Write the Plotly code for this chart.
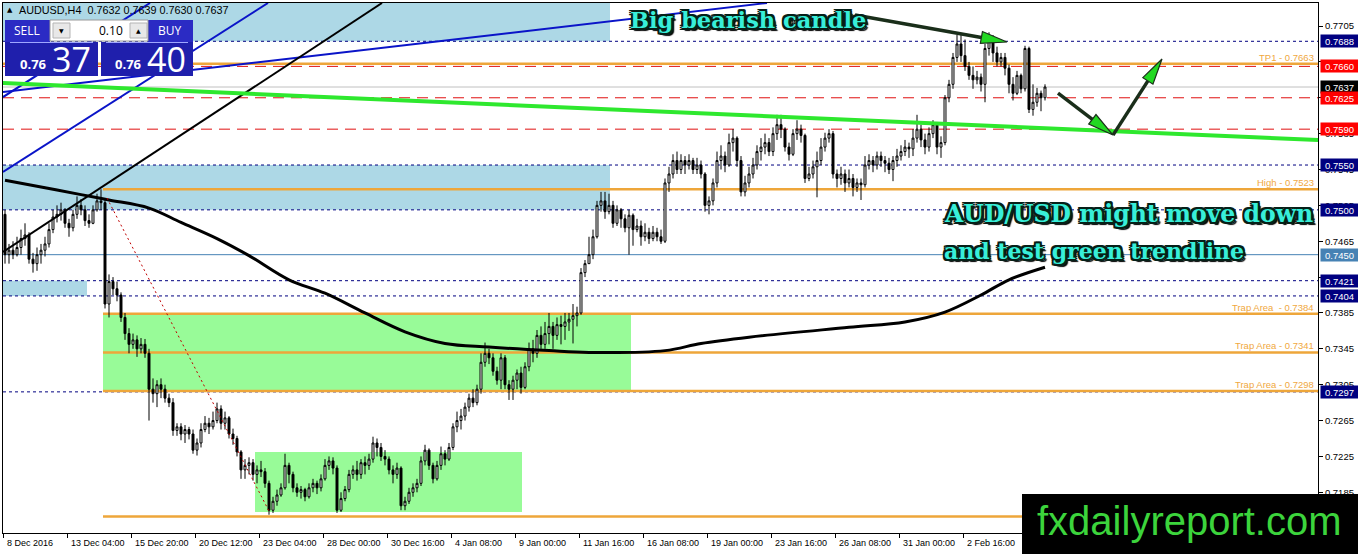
import math
import plotly.graph_objects as go

# ---------------- data (prices in pips, x 10000) ----------------
first_open = 7495
close_pips = [
    7450, 7455, 7450, 7458, 7468, 7472, 7445, 7440, 7450, 7455,
    7462, 7478, 7492, 7495, 7500, 7485, 7480, 7495, 7505, 7500,
    7488, 7485, 7500, 7510, 7508, 7395, 7420, 7412, 7405, 7380,
    7362, 7350, 7355, 7345, 7350, 7340, 7300, 7295, 7305, 7300,
    7290, 7285, 7254, 7258, 7250, 7255, 7250, 7232, 7240, 7255,
    7262, 7258, 7265, 7278, 7262, 7268, 7250, 7245, 7230, 7210,
    7215, 7218, 7205, 7210, 7208, 7195, 7165, 7175, 7182, 7190,
    7215, 7205, 7190, 7185, 7188, 7180, 7190, 7195, 7190, 7200,
    7215, 7220, 7212, 7165, 7178, 7188, 7205, 7210, 7205, 7218,
    7215, 7222, 7240, 7235, 7225, 7222, 7210, 7205, 7212, 7170,
    7175, 7185, 7190, 7195, 7220, 7232, 7215, 7200, 7215, 7228,
    7222, 7235, 7258, 7265, 7270, 7280, 7290, 7285, 7300, 7330,
    7340, 7335, 7320, 7310, 7335, 7305, 7300, 7310, 7318, 7302,
    7325, 7345, 7340, 7360, 7350, 7362, 7370, 7360, 7372, 7370,
    7375, 7378, 7382, 7385, 7430, 7440, 7450, 7470, 7505, 7510,
    7498, 7505, 7485, 7500, 7490, 7480, 7494, 7478, 7482, 7470,
    7475, 7468, 7475, 7470, 7465, 7530, 7540, 7555, 7545, 7555,
    7550, 7555, 7545, 7550, 7540, 7505, 7510, 7530, 7555, 7560,
    7550, 7575, 7580, 7555, 7520, 7530, 7540, 7550, 7565, 7570,
    7575, 7565, 7585, 7595, 7590, 7570, 7562, 7585, 7590, 7583,
    7535, 7540, 7548, 7555, 7570, 7580, 7585, 7540, 7535, 7540,
    7530, 7535, 7525, 7530, 7528, 7550, 7555, 7550, 7560, 7555,
    7552, 7545, 7555, 7560, 7565, 7570, 7568, 7580, 7590, 7578,
    7570, 7585, 7595, 7570, 7575, 7625, 7640, 7670, 7685, 7672,
    7660, 7650, 7645, 7648, 7640, 7680, 7690, 7675, 7665, 7670,
    7658, 7640, 7630, 7650, 7635, 7680, 7612, 7620, 7630, 7625, 7637]
high_pips = [
    7500, 7462, 7465, 7470, 7478, 7485, 7475, 7452, 7458, 7462,
    7470, 7485, 7500, 7505, 7508, 7502, 7490, 7500, 7515, 7512,
    7505, 7495, 7505, 7518, 7523, 7512, 7428, 7425, 7420, 7408,
    7385, 7368, 7362, 7360, 7357, 7356, 7345, 7312, 7310, 7312,
    7305, 7295, 7290, 7262, 7262, 7260, 7258, 7255, 7245, 7262,
    7270, 7268, 7275, 7285, 7282, 7275, 7270, 7256, 7248, 7232,
    7222, 7224, 7222, 7215, 7220, 7212, 7198, 7180, 7188, 7195,
    7228, 7218, 7208, 7195, 7192, 7190, 7195, 7200, 7198, 7205,
    7222, 7225, 7224, 7215, 7185, 7192, 7210, 7215, 7220, 7222,
    7225, 7228, 7247, 7245, 7240, 7232, 7225, 7215, 7218, 7214,
    7180, 7190, 7195, 7200, 7225, 7238, 7234, 7218, 7220, 7236,
    7232, 7240, 7262, 7275, 7278, 7285, 7295, 7300, 7305, 7340,
    7352, 7345, 7340, 7325, 7340, 7338, 7310, 7315, 7322, 7325,
    7330, 7352, 7355, 7366, 7370, 7375, 7385, 7375, 7380, 7382,
    7385, 7385, 7395, 7392, 7435, 7444, 7470, 7478, 7510, 7520,
    7520, 7518, 7510, 7505, 7502, 7495, 7500, 7496, 7490, 7488,
    7485, 7480, 7482, 7480, 7478, 7535, 7548, 7562, 7565, 7562,
    7560, 7562, 7558, 7558, 7555, 7542, 7515, 7535, 7565, 7572,
    7565, 7585, 7590, 7582, 7560, 7538, 7548, 7558, 7572, 7580,
    7585, 7580, 7592, 7606, 7606, 7592, 7575, 7590, 7600, 7595,
    7585, 7548, 7555, 7565, 7580, 7586, 7590, 7588, 7545, 7548,
    7545, 7545, 7540, 7535, 7535, 7560, 7562, 7560, 7565, 7565,
    7560, 7558, 7560, 7568, 7572, 7578, 7575, 7590, 7606, 7595,
    7585, 7592, 7600, 7598, 7582, 7628, 7645, 7675, 7695, 7695,
    7690, 7665, 7660, 7655, 7652, 7685, 7698, 7695, 7682, 7675,
    7675, 7662, 7648, 7655, 7652, 7683, 7682, 7640, 7636, 7633, 7640]
low_pips = [
    7440, 7440, 7445, 7448, 7450, 7460, 7440, 7430, 7432, 7440,
    7448, 7458, 7474, 7486, 7488, 7480, 7470, 7476, 7490, 7494,
    7482, 7480, 7484, 7498, 7500, 7390, 7380, 7405, 7398, 7375,
    7355, 7340, 7345, 7336, 7340, 7335, 7265, 7285, 7280, 7290,
    7285, 7280, 7248, 7248, 7243, 7240, 7244, 7228, 7226, 7235,
    7252, 7250, 7255, 7262, 7255, 7255, 7245, 7238, 7225, 7200,
    7200, 7205, 7198, 7195, 7202, 7190, 7160, 7162, 7170, 7180,
    7188, 7195, 7185, 7180, 7178, 7175, 7178, 7185, 7183, 7186,
    7198, 7210, 7205, 7162, 7163, 7175, 7185, 7200, 7198, 7200,
    7205, 7210, 7218, 7225, 7220, 7215, 7205, 7195, 7200, 7165,
    7165, 7172, 7180, 7185, 7192, 7215, 7210, 7195, 7198, 7210,
    7215, 7220, 7232, 7252, 7255, 7265, 7275, 7280, 7282, 7295,
    7325, 7328, 7315, 7305, 7300, 7300, 7288, 7288, 7300, 7295,
    7300, 7320, 7330, 7335, 7345, 7345, 7350, 7345, 7355, 7350,
    7355, 7365, 7351, 7370, 7383, 7425, 7440, 7445, 7468, 7498,
    7490, 7495, 7480, 7482, 7480, 7475, 7450, 7460, 7475, 7460,
    7465, 7462, 7465, 7465, 7462, 7463, 7520, 7535, 7540, 7540,
    7540, 7545, 7540, 7540, 7535, 7498, 7495, 7505, 7525, 7545,
    7542, 7548, 7565, 7548, 7515, 7515, 7525, 7535, 7545, 7555,
    7562, 7560, 7560, 7578, 7580, 7565, 7555, 7560, 7578, 7575,
    7530, 7532, 7535, 7514, 7550, 7565, 7575, 7535, 7525, 7528,
    7520, 7525, 7515, 7520, 7511, 7525, 7545, 7542, 7545, 7548,
    7542, 7540, 7532, 7548, 7555, 7560, 7558, 7560, 7575, 7570,
    7562, 7565, 7580, 7562, 7558, 7572, 7620, 7635, 7665, 7665,
    7655, 7645, 7635, 7640, 7632, 7620, 7672, 7665, 7660, 7660,
    7650, 7630, 7622, 7628, 7630, 7632, 7608, 7605, 7615, 7610, 7622]

ema_index = [0, 6, 19, 26, 36, 44, 53, 61, 71, 80, 90, 100, 110, 121, 136, 146,
             165, 174, 186, 211, 225, 235, 244, 251, 260]
ema_pips = [7533, 7528, 7517, 7511, 7502, 7486, 7468, 7449, 7422, 7407, 7385, 7364,
            7351, 7347, 7343, 7341, 7343, 7351, 7358, 7369, 7375, 7386, 7405, 7422, 7436]

date_tick_index = [-0.5, 15.5, 31.5, 47.5, 63.5, 79.5, 95.5, 111.5, 127.5, 143.5,
                   159.5, 175.5, 191.5, 207.5, 223.5, 239.5]
date_tick_text = ["8 Dec 2016", "13 Dec 04:00", "15 Dec 20:00", "20 Dec 12:00",
                  "23 Dec 04:00", "28 Dec 00:00", "30 Dec 16:00", "4 Jan 08:00",
                  "9 Jan 00:00", "11 Jan 16:00", "16 Jan 08:00", "19 Jan 00:00",
                  "23 Jan 16:00", "26 Jan 08:00", "31 Jan 00:00", "2 Feb 16:00"]
price_tick_vals = [0.7185, 0.7225, 0.7265, 0.7305, 0.7345, 0.7385, 0.7425, 0.7465,
                   0.7505, 0.7545, 0.7585, 0.7625, 0.7665, 0.7705]
price_tick_text = ["0.7185", "0.7225", "0.7265", "0.7305", "0.7345", "0.7385", "",
                   "0.7465", "0.7505", "0.7545", "0.7585", "", "", "0.7705"]

dotted_levels = [0.7688, 0.7550, 0.7500, 0.7421, 0.7404, 0.7297]
red_levels = [0.7660, 0.7625, 0.7590]
orange_levels = [0.7663, 0.7523, 0.7384, 0.7341, 0.7298, 0.7158]
orange_from = [-0.5, 24.5, 24.5, 24.5, 24.5, 24.5]
orange_text = ["TP1 - 0.7663", "High - 0.7523", "Trap Area  - 0.7384",
               "Trap Area - 0.7341", "Trap Area - 0.7298", ""]
steel_level = 0.7450
bid_level = 0.7637

tag_values = [0.7688, 0.7660, 0.7637, 0.7625, 0.7590, 0.7550, 0.7500, 0.7450,
              0.7421, 0.7404, 0.7297]
tag_colors = ["#000080", "#ff0000", "#000000", "#ff0000", "#ff0000", "#000080",
              "#000080", "#4682b4", "#000080", "#000080", "#000080"]

blue_zones = [[-0.5, 151.25, 0.7688, 0.7745], [-0.5, 151.25, 0.7500, 0.7550],
              [-0.5, 20.5, 0.7404, 0.7421]]
green_zones = [[24.5, 156.5, 0.7298, 0.7384], [62.5, 129.25, 0.7163, 0.7230]]

blue_trendlines = [[-0.5, 0.76258, 36.25, 0.77307], [-0.5, 0.75422, 65.75, 0.77307],
                   [-0.5, 0.76314, 190.5, 0.77307]]
black_trendline = [-0.5, 0.74530, 94.25, 0.77307]
red_dotted = [25.5, 0.75132, 66.25, 0.71619]
green_trendline = [-0.5, 0.76414, 328.25, 0.75779]
arrows = [[212.5, 0.77173, 250.5, 0.76872], [263.25, 0.76303, 277.0, 0.75834],
          [277.0, 0.75834, 289.25, 0.76682]]

# ---------------- geometry ----------------
W, H = 1358, 554
ML, MR, MT, MB = 3, 40, 3, 21
PW, PH = W - ML - MR, H - MT - MB
XR = [-0.5, 328.25]
YR = [0.71396, 0.77307]


def dpx(i, p):
    return (ML + (i - XR[0]) / (XR[1] - XR[0]) * PW,
            MT + (YR[1] - p) / (YR[1] - YR[0]) * PH)


def pap(x, y):
    return (x - ML) / PW, (H - MB - y) / PH


def px(x):
    return (x - ML) / PW


def py(y):
    return (H - MB - y) / PH


closes = [c / 10000 for c in close_pips]
opens = [first_open / 10000] + closes[:-1]
highs = [h / 10000 for h in high_pips]
lows = [l / 10000 for l in low_pips]
bar_index = list(range(len(closes)))

fig = go.Figure()
fig.add_trace(go.Candlestick(
    x=bar_index, open=opens, high=highs, low=lows, close=closes,
    increasing=dict(line=dict(color="black", width=1), fillcolor="white"),
    decreasing=dict(line=dict(color="black", width=1), fillcolor="black"),
    whiskerwidth=0, hoverinfo="skip", showlegend=False))
fig.add_trace(go.Scatter(
    x=ema_index, y=[v / 10000 for v in ema_pips], mode="lines",
    line=dict(color="black", width=3, shape="spline"), hoverinfo="skip", showlegend=False))

shapes = []
for x0, x1, y0, y1 in blue_zones:
    shapes.append(dict(type="rect", xref="x", yref="y", x0=x0, x1=x1, y0=y0, y1=y1,
                       fillcolor="#add8e6", line=dict(width=0), layer="below"))
for x0, x1, y0, y1 in green_zones:
    shapes.append(dict(type="rect", xref="x", yref="y", x0=x0, x1=x1, y0=y0, y1=y1,
                       fillcolor="#98fb98", line=dict(width=0), layer="below"))
shapes.append(dict(type="line", xref="x", yref="y", x0=XR[0], x1=XR[1], y0=bid_level,
                   y1=bid_level, line=dict(color="#c0c0c0", width=1), layer="below"))
shapes.append(dict(type="line", xref="x", yref="y", x0=XR[0], x1=XR[1], y0=steel_level,
                   y1=steel_level, line=dict(color="#4682b4", width=1), layer="below"))
for v in dotted_levels:
    shapes.append(dict(type="line", xref="x", yref="y", x0=XR[0], x1=XR[1], y0=v, y1=v,
                       line=dict(color="#000080", width=1, dash="3px,3px"), layer="below"))
for v, x0 in zip(orange_levels, orange_from):
    shapes.append(dict(type="line", xref="x", yref="y", x0=x0, x1=XR[1], y0=v, y1=v,
                       line=dict(color="#eea63a", width=2.5), layer="below"))
for v in red_levels:
    shapes.append(dict(type="line", xref="x", yref="y", x0=XR[0], x1=XR[1], y0=v, y1=v,
                       line=dict(color="#e01010", width=1, dash="11px,7px"), layer="below"))

# trend lines
for x0, y0, x1, y1 in blue_trendlines:
    shapes.append(dict(type="line", xref="x", yref="y", x0=x0, y0=y0, x1=x1, y1=y1,
                       line=dict(color="#0a14c8", width=2)))
shapes.append(dict(type="line", xref="x", yref="y", x0=black_trendline[0], y0=black_trendline[1],
                   x1=black_trendline[2], y1=black_trendline[3], line=dict(color="black", width=2)))
shapes.append(dict(type="line", xref="x", yref="y", x0=red_dotted[0], y0=red_dotted[1],
                   x1=red_dotted[2], y1=red_dotted[3], line=dict(color="#c00000", width=1, dash="2px,3px")))
shapes.append(dict(type="line", xref="x", yref="y", x0=green_trendline[0], y0=green_trendline[1],
                   x1=green_trendline[2], y1=green_trendline[3], line=dict(color="#2ee82e", width=4)))

# arrows: dark shaft + green triangular head
for x0, y0, x1, y1 in arrows:
    tx, ty = dpx(x0, y0)
    hx, hy = dpx(x1, y1)
    d = math.hypot(hx - tx, hy - ty)
    ux, uy = (hx - tx) / d, (hy - ty) / d
    nx, ny = -uy, ux
    bx, by = hx - 26 * ux, hy - 26 * uy
    shapes.append(dict(type="line", xref="paper", yref="paper",
                       x0=pap(tx, ty)[0], y0=pap(tx, ty)[1], x1=pap(bx, by)[0], y1=pap(bx, by)[1],
                       line=dict(color="#1a2e1a", width=3.5)))
    pts = [(hx, hy), (bx + 6 * nx, by + 6 * ny), (bx - 6 * nx, by - 6 * ny)]
    path = "M " + " L ".join("%.5f,%.5f" % pap(a, b) for a, b in pts) + " Z"
    shapes.append(dict(type="path", xref="paper", yref="paper", path=path,
                       fillcolor="#22d822", line=dict(color="#1a2e1a", width=1.2)))

# one-click trading panel (pixel boxes)
def rect_px(x0, y0, x1, y1, fill, line_color=None, lw=0):
    return dict(type="rect", xref="paper", yref="paper", x0=px(x0), x1=px(x1), y0=py(y1), y1=py(y0),
                fillcolor=fill, line=dict(color=line_color or fill, width=lw), layer="above")

shapes += [
    rect_px(5, 20, 50, 42, "#2b2bc4"),
    rect_px(5, 42, 98, 76, "#1f1fac"),
    rect_px(148, 20, 193, 42, "#2b2bc4"),
    rect_px(101, 42, 193, 76, "#1f1fac"),
    rect_px(50, 20, 148, 41, "#ffffff", "#9a9a9a", 1),
    rect_px(53, 23, 70, 38, "#e8e8e8", "#b4b4b4", 1),
    rect_px(130, 23, 147, 38, "#e8e8e8", "#b4b4b4", 1),
    dict(type="line", xref="paper", yref="paper", x0=px(10), x1=px(93), y0=py(42.5), y1=py(42.5),
         line=dict(color="#9fa6ff", width=1)),
    dict(type="line", xref="paper", yref="paper", x0=px(106), x1=px(188), y0=py(42.5), y1=py(42.5),
         line=dict(color="#9fa6ff", width=1)),
    rect_px(1022, 494, 1360, 556, "#000000"),
]

ann = []
small = dict(family="Liberation Sans", size=9, color="black")
for v, t in zip(date_tick_index, date_tick_text):
    ann.append(dict(xref="x", yref="paper", x=v + 0.4, y=py(543), text=t, showarrow=False,
                    xanchor="left", yanchor="middle", font=small))
for v, c in zip(tag_values, tag_colors):
    ann.append(dict(xref="paper", yref="y", x=px(1320), y=v, text="%.4f" % v, showarrow=False,
                    xanchor="left", yanchor="middle", bgcolor=c, width=35, height=10, borderpad=1,
                    font=dict(family="Liberation Sans", size=9.5, color="white")))
for v, t in zip(orange_levels, orange_text):
    if t:
        ann.append(dict(xref="paper", yref="y", x=px(1316), y=v, text=t, showarrow=False,
                        xanchor="right", yanchor="bottom", yshift=-1,
                        font=dict(family="Liberation Sans", size=9.5, color="#f0a840")))

outline = ("-2px -2px 0 #062018, 2px -2px 0 #062018, -2px 2px 0 #062018, 2px 2px 0 #062018, "
           "0 -2px 0 #062018, 0 2px 0 #062018, -2px 0 0 #062018, 2px 0 0 #062018, 3px 3px 1px #000")


def big(size):
    return dict(family="DejaVu Serif", size=size, color="#38efd9", weight="bold", shadow=outline)


ann.append(dict(xref="paper", yref="paper", x=px(628), y=py(20), text="Big bearish candle",
                showarrow=False, xanchor="left", yanchor="middle", font=big(22.5)))
ann.append(dict(xref="paper", yref="paper", x=px(942), y=py(214), text="AUD/USD might move down",
                showarrow=False, xanchor="left", yanchor="middle", font=big(23.6)))
ann.append(dict(xref="paper", yref="paper", x=px(942), y=py(251), text="and test green trendline",
                showarrow=False, xanchor="left", yanchor="middle", font=big(22)))

ann.append(dict(xref="paper", yref="paper", x=px(1189), y=py(521), text="fxdailyreport.com",
                showarrow=False, xanchor="center", yanchor="middle",
                font=dict(family="Liberation Sans", size=40, color="#3cd43c")))

# panel texts
ann += [
    dict(xref="paper", yref="paper", x=px(5), y=py(9.5), text="▲", showarrow=False,
         xanchor="left", yanchor="middle", font=dict(family="DejaVu Sans", size=7, color="black")),
    dict(xref="paper", yref="paper", x=px(17), y=py(9.5),
         text="AUDUSD,H4  0.7632 0.7639 0.7630 0.7637", showarrow=False,
         xanchor="left", yanchor="middle", font=dict(family="Liberation Sans", size=10.8, color="black")),
    dict(xref="paper", yref="paper", x=px(27), y=py(31), text="SELL", showarrow=False,
         xanchor="center", yanchor="middle", font=dict(family="Open Sans", size=12, color="white")),
    dict(xref="paper", yref="paper", x=px(170), y=py(31), text="BUY", showarrow=False,
         xanchor="center", yanchor="middle", font=dict(family="Open Sans", size=12, color="white")),
    dict(xref="paper", yref="paper", x=px(125), y=py(31), text="0.10", showarrow=False,
         xanchor="right", yanchor="middle", font=dict(family="Open Sans", size=12, color="black")),
    dict(xref="paper", yref="paper", x=px(61.5), y=py(30.5), text="▼", showarrow=False,
         xanchor="center", yanchor="middle", font=dict(family="DejaVu Sans", size=6, color="black")),
    dict(xref="paper", yref="paper", x=px(138.5), y=py(30.5), text="▲", showarrow=False,
         xanchor="center", yanchor="middle", font=dict(family="DejaVu Sans", size=6, color="black")),
    dict(xref="paper", yref="paper", x=px(49), y=py(64), text="<b>0.76</b>", showarrow=False,
         xanchor="right", yanchor="middle", font=dict(family="Open Sans", size=13, color="white")),
    dict(xref="paper", yref="paper", x=px(50), y=py(59), text="37", showarrow=False,
         xanchor="left", yanchor="middle", font=dict(family="Open Sans", size=34, color="white")),
    dict(xref="paper", yref="paper", x=px(144), y=py(64), text="<b>0.76</b>", showarrow=False,
         xanchor="right", yanchor="middle", font=dict(family="Open Sans", size=13, color="white")),
    dict(xref="paper", yref="paper", x=px(145), y=py(59), text="40", showarrow=False,
         xanchor="left", yanchor="middle", font=dict(family="Open Sans", size=34, color="white")),
]

fig.update_layout(
    width=W, height=H, margin=dict(l=ML, r=MR, t=MT, b=MB, pad=0),
    paper_bgcolor="white", plot_bgcolor="white", showlegend=False,
    shapes=shapes, annotations=ann,
    xaxis=dict(range=XR, showgrid=False, zeroline=False, tickvals=date_tick_index,
               ticktext=[""] * len(date_tick_index), ticks="outside", ticklen=4, tickcolor="black",
               showline=True, linecolor="black", linewidth=1, mirror=True,
               rangeslider=dict(visible=False), automargin=False),
    yaxis=dict(range=YR, side="right", showgrid=False, zeroline=False, tickvals=price_tick_vals,
               ticktext=price_tick_text, ticks="outside", ticklen=4,
               tickcolor="black", showline=True, linecolor="black", linewidth=1, mirror=True,
               tickfont=dict(family="Liberation Sans", size=9.5, color="black"), automargin=False),
)

fig.write_html("out.html", config={"displayModeBar": False},
               post_script="document.body.style.margin='0';document.body.style.padding='0';"
                           "document.body.style.overflow='hidden';")
